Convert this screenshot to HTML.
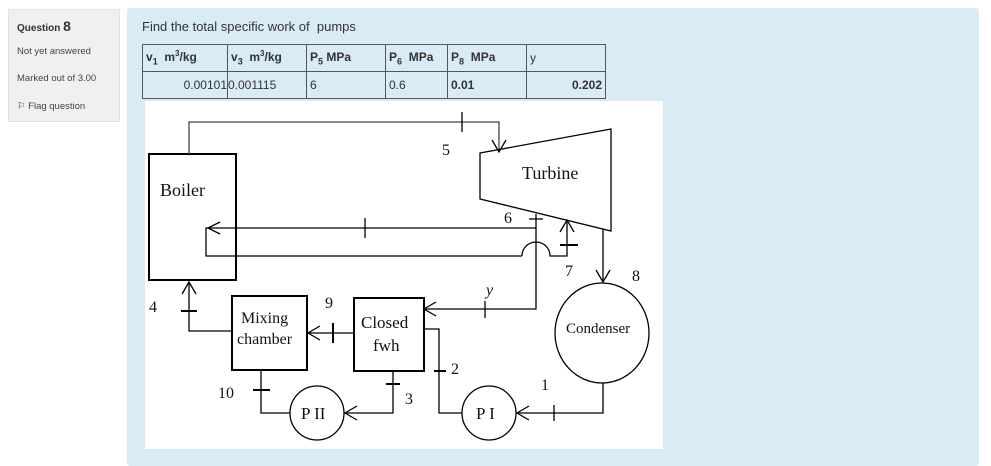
<!DOCTYPE html>
<html><head><meta charset="utf-8"><style>
body{margin:0;width:991px;height:466px;background:#fff;position:relative;overflow:hidden;font-family:"Liberation Sans",sans-serif}
.left{position:absolute;left:8px;top:9px;width:112px;height:113px;background:#f0f0f0;border:1px solid #e2e2e2;box-sizing:border-box}
.left div{position:absolute;left:8px;font-size:9.5px;color:#444}
.panel{position:absolute;left:127px;top:8px;width:852px;height:458px;background:#d9ebf5;border-radius:3px}
table{position:absolute;left:142px;top:44px;border-collapse:collapse;font-size:12px;color:#333}
td{border:1px solid #555;height:26px;padding:0 3px;vertical-align:middle}
sub{font-size:9px}
</style></head><body>
<div class="left">
<div style="top:8px;font-size:10px;color:#333;font-weight:bold">Question <span style="font-size:14px">8</span></div>
<div style="top:36px">Not yet answered</div>
<div style="top:63px">Marked out of 3.00</div>
<div style="top:91px">&#9872; Flag question</div>
</div>
<div class="panel"></div>
<div style="position:absolute;left:142px;top:19px;font-size:13px;color:#333">Find the total specific work of&nbsp; pumps</div>
<table>
<tr><td style="width:78px;font-weight:bold">v<sub>1</sub>&nbsp; m<sup style="font-size:8px">3</sup>/kg</td><td style="width:72px;font-weight:bold">v<sub>3</sub>&nbsp; m<sup style="font-size:8px">3</sup>/kg</td><td style="width:72px;font-weight:bold">P<sub>5</sub> MPa</td><td style="width:55px;font-weight:bold">P<sub>6</sub>&nbsp; MPa</td><td style="width:72px;font-weight:bold">P<sub>8</sub>&nbsp; MPa</td><td style="width:72px">y</td></tr>
<tr><td style="text-align:right;padding-right:0">0.00101</td><td style="padding-left:0">0.001115</td><td>6</td><td>0.6</td><td style="font-weight:bold">0.01</td><td style="text-align:right;font-weight:bold">0.202</td></tr>
</table>
<svg width="991" height="466" style="position:absolute;left:0;top:0" font-family="Liberation Serif,serif">
<rect x="145" y="101" width="518" height="348" fill="#fff"/>
<g stroke="#000" stroke-width="1.3" fill="none">
<rect x="149" y="154" width="87" height="126" stroke-width="2"/>
<polyline points="189,154 189,122 499,122 499,152" stroke="#444"/>
<line x1="462" y1="112" x2="462" y2="132"/>
<polyline points="492,140 499,152 506,140"/>
<polygon points="480,153 611,129 611,231 480,199"/>
<polyline points="536,214 536,309 424,309"/>
<line x1="529" y1="219" x2="543" y2="219"/>
<polyline points="536,228 206,228 206,256 522,256"/>
<path d="M522,256 A14,14 0 0 1 550,256 L567,256 L567,222"/>
<polyline points="560,232 567,220 574,232"/>
<line x1="560" y1="245" x2="578" y2="245" stroke-width="2"/>
<line x1="365" y1="218" x2="365" y2="238"/>
<polyline points="220,222 208,228 220,234"/>
<polyline points="603,229 603,282"/>
<polyline points="596,270 603,282 610,270"/>
<ellipse cx="602" cy="333" rx="47" ry="50"/>
<polyline points="603,383 603,413 517,413"/>
<polyline points="529,406 517,413 529,420"/>
<line x1="554" y1="405" x2="554" y2="421"/>
<circle cx="489" cy="413" r="27"/>
<polyline points="462,413 439,413 439,329 424,329"/>
<line x1="434" y1="371" x2="446" y2="371" stroke-width="2"/>
<polyline points="436,302 424,309 436,316"/>
<line x1="485" y1="301" x2="485" y2="318"/>
<rect x="354" y="298" width="70" height="73" stroke-width="2"/>
<polyline points="393,371 393,413 345,413"/>
<line x1="386" y1="384" x2="400" y2="384" stroke-width="2"/>
<polyline points="357,406 345,413 357,420"/>
<circle cx="317" cy="413" r="27"/>
<polyline points="290,413 261,413 261,370"/>
<line x1="253" y1="390" x2="270" y2="390" stroke-width="2"/>
<rect x="232" y="296" width="75" height="74" stroke-width="2"/>
<line x1="354" y1="333" x2="307" y2="333"/>
<polyline points="320,326 308,333 320,340"/>
<line x1="333" y1="323" x2="333" y2="343" stroke-width="2"/>
<polyline points="232,331 189,331 189,282"/>
<polyline points="182,294 189,282 196,294"/>
<line x1="181" y1="311" x2="197" y2="311" stroke-width="2"/>
</g>
<g font-size="16" fill="#111">
<text x="160" y="196" font-size="18">Boiler</text>
<text x="522" y="179" font-size="18">Turbine</text>
<text x="442" y="155">5</text>
<text x="504" y="223">6</text>
<text x="565" y="276">7</text>
<text x="632" y="281">8</text>
<text x="566" y="333" font-size="15">Condenser</text>
<text x="541" y="390">1</text>
<text x="476" y="419" font-size="17">P I</text>
<text x="451" y="374">2</text>
<text x="486" y="295" font-style="italic">y</text>
<text x="361" y="328" font-size="17">Closed</text>
<text x="373" y="351" font-size="17">fwh</text>
<text x="405" y="404">3</text>
<text x="301" y="419" font-size="17">P II</text>
<text x="218" y="398">10</text>
<text x="241" y="323">Mixing</text>
<text x="237" y="344">chamber</text>
<text x="325" y="308">9</text>
<text x="149" y="312">4</text>
</g>
</svg>
</body></html>
